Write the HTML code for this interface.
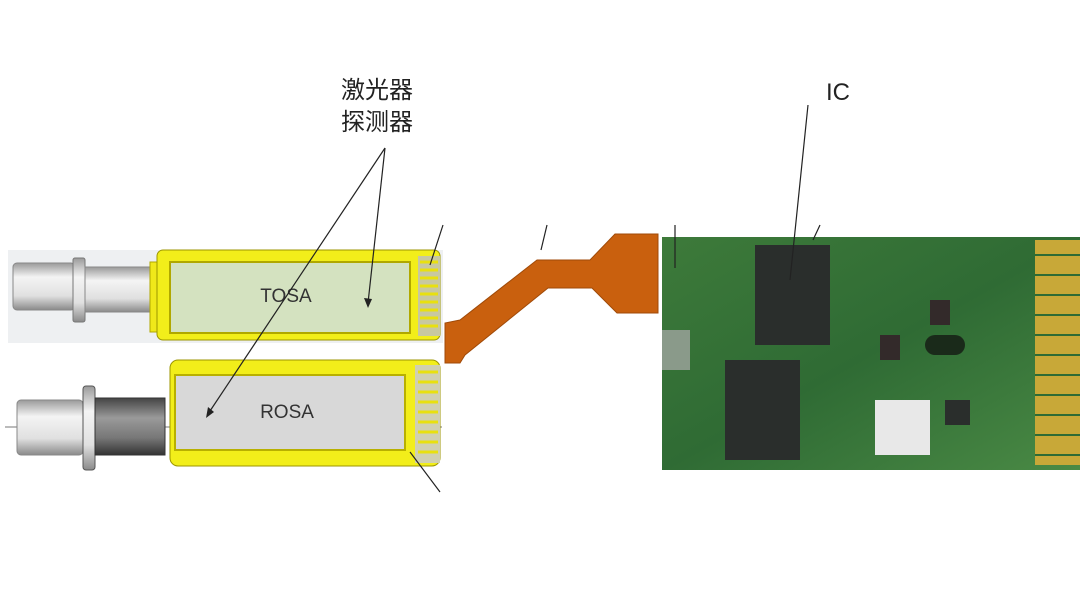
<!DOCTYPE html>
<html><head><meta charset="utf-8"><style>
html,body{margin:0;padding:0;background:#fff;}
body{width:1080px;height:608px;overflow:hidden;}
</style></head><body>
<svg width="1080" height="608" viewBox="0 0 1080 608" xmlns="http://www.w3.org/2000/svg">
<defs>
<linearGradient id="metal" x1="0" y1="0" x2="0" y2="1">
<stop offset="0" stop-color="#9a9a9a"/><stop offset="0.3" stop-color="#f4f4f4"/><stop offset="0.7" stop-color="#e0e0e0"/><stop offset="1" stop-color="#8a8a8a"/></linearGradient>
<linearGradient id="dmetal" x1="0" y1="0" x2="0" y2="1">
<stop offset="0" stop-color="#444"/><stop offset="0.35" stop-color="#9a9a9a"/><stop offset="0.7" stop-color="#777"/><stop offset="1" stop-color="#333"/></linearGradient>
<linearGradient id="pcb" x1="0" y1="0" x2="1" y2="1">
<stop offset="0" stop-color="#3d7a3a"/><stop offset="0.5" stop-color="#2f6b34"/><stop offset="1" stop-color="#4a8a45"/></linearGradient>
</defs>
<!-- TOSA -->
<rect x="8" y="250" width="435" height="93" fill="#eef0f2"/>
<rect x="13" y="263" width="62" height="47" rx="4" fill="url(#metal)" stroke="#888"/>
<rect x="73" y="258" width="12" height="64" rx="2" fill="url(#metal)" stroke="#777"/>
<rect x="85" y="267" width="67" height="45" fill="url(#metal)" stroke="#888"/>
<rect x="150" y="262" width="12" height="70" fill="#f0e81a" stroke="#b0a800"/>
<rect x="157" y="250" width="283" height="90" rx="6" fill="#f2ee1a" stroke="#9c9600"/>
<rect x="170" y="262" width="240" height="71" fill="#d4e2c0" stroke="#b0a800" stroke-width="2"/>
<rect x="418" y="256" width="22" height="80" fill="#c8c8a0"/>
<g stroke="#e8e010" stroke-width="3"><line x1="420" y1="262" x2="438" y2="262"/><line x1="420" y1="270" x2="438" y2="270"/><line x1="420" y1="278" x2="438" y2="278"/><line x1="420" y1="286" x2="438" y2="286"/><line x1="420" y1="294" x2="438" y2="294"/><line x1="420" y1="302" x2="438" y2="302"/><line x1="420" y1="310" x2="438" y2="310"/><line x1="420" y1="318" x2="438" y2="318"/><line x1="420" y1="326" x2="438" y2="326"/></g>
<text x="286" y="302" font-family="Liberation Sans, sans-serif" font-size="19" fill="#333" text-anchor="middle">TOSA</text>
<!-- ROSA -->
<line x1="5" y1="427" x2="442" y2="427" stroke="#777" stroke-dasharray="12,3,2,3"/>
<rect x="17" y="400" width="66" height="55" rx="4" fill="url(#metal)" stroke="#888"/>
<rect x="83" y="386" width="12" height="84" rx="3" fill="url(#metal)" stroke="#555"/>
<rect x="95" y="398" width="70" height="57" fill="url(#dmetal)" stroke="#333"/>
<rect x="170" y="360" width="270" height="106" rx="8" fill="#f2ee1a" stroke="#9c9600"/>
<rect x="175" y="375" width="230" height="75" fill="#d8d8d8" stroke="#b8b000" stroke-width="2"/>
<rect x="415" y="365" width="25" height="98" fill="#d0d0b0"/>
<g stroke="#e8e010" stroke-width="3"><line x1="418" y1="372" x2="438" y2="372"/><line x1="418" y1="382" x2="438" y2="382"/><line x1="418" y1="392" x2="438" y2="392"/><line x1="418" y1="402" x2="438" y2="402"/><line x1="418" y1="412" x2="438" y2="412"/><line x1="418" y1="422" x2="438" y2="422"/><line x1="418" y1="432" x2="438" y2="432"/><line x1="418" y1="442" x2="438" y2="442"/><line x1="418" y1="452" x2="438" y2="452"/></g>
<text x="287" y="418" font-family="Liberation Sans, sans-serif" font-size="19" fill="#333" text-anchor="middle">ROSA</text>
<!-- flex -->
<polygon points="445,363 445,323 460,320 537,260 590,260 615,234 658,234 658,313 617,313 592,288 548,288 465,355 460,363" fill="#c9600e" stroke="#a04a08"/>
<!-- PCB -->
<rect x="662" y="237" width="418" height="233" fill="url(#pcb)"/>
<rect x="1035" y="240" width="45" height="225" fill="#c8a838"/>
<g stroke="#2f6b34" stroke-width="2"><line x1="1035" y1="255" x2="1080" y2="255"/><line x1="1035" y1="275" x2="1080" y2="275"/><line x1="1035" y1="295" x2="1080" y2="295"/><line x1="1035" y1="315" x2="1080" y2="315"/><line x1="1035" y1="335" x2="1080" y2="335"/><line x1="1035" y1="355" x2="1080" y2="355"/><line x1="1035" y1="375" x2="1080" y2="375"/><line x1="1035" y1="395" x2="1080" y2="395"/><line x1="1035" y1="415" x2="1080" y2="415"/><line x1="1035" y1="435" x2="1080" y2="435"/><line x1="1035" y1="455" x2="1080" y2="455"/></g>
<rect x="755" y="245" width="75" height="100" fill="#2a2e2c"/>
<rect x="725" y="360" width="75" height="100" fill="#2a2e2c"/>
<rect x="875" y="400" width="55" height="55" fill="#e8e8e8"/>
<rect x="925" y="335" width="40" height="20" rx="10" fill="#1a2a1a"/>
<rect x="930" y="300" width="20" height="25" fill="#332a2a"/>
<rect x="880" y="335" width="20" height="25" fill="#332a2a"/>
<rect x="945" y="400" width="25" height="25" fill="#2a2e2c"/>
<rect x="662" y="330" width="28" height="40" fill="#8a9a8a"/>
<!-- lines -->
<g stroke="#222" stroke-width="1.2" fill="none">
<line x1="385" y1="148" x2="368" y2="303"/>
<line x1="385" y1="148" x2="208" y2="414"/>
<line x1="808" y1="105" x2="790" y2="280"/>
<line x1="443" y1="225" x2="430" y2="265"/>
<line x1="547" y1="225" x2="541" y2="250"/>
<line x1="675" y1="225" x2="675" y2="268"/>
<line x1="820" y1="225" x2="813" y2="240"/>
<line x1="410" y1="452" x2="440" y2="492"/>
</g>
<polygon points="368,308 364,298 372,299" fill="#222"/>
<polygon points="206,418 208,407 214,412" fill="#222"/>
<text x="377" y="98" font-family="Liberation Sans, 'Noto Sans CJK SC', sans-serif" font-size="24" fill="#222" text-anchor="middle">激光器</text>
<text x="377" y="130" font-family="Liberation Sans, 'Noto Sans CJK SC', sans-serif" font-size="24" fill="#222" text-anchor="middle">探测器</text>
<text x="838" y="100" font-family="Liberation Sans, sans-serif" font-size="24" fill="#222" text-anchor="middle">IC</text>
</svg>
</body></html>
